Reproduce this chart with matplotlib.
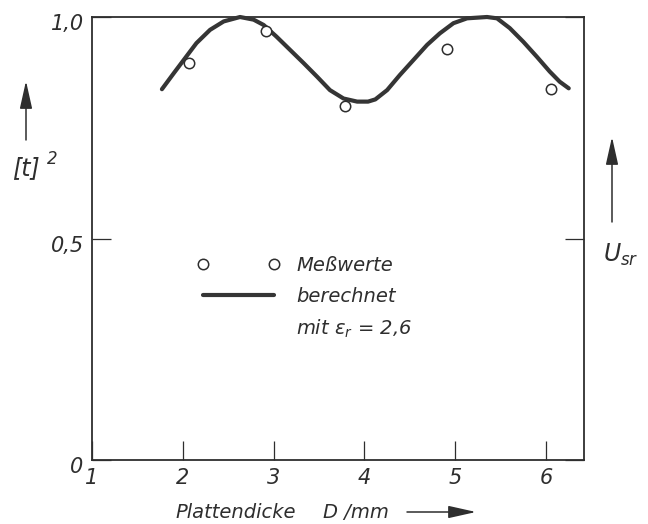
import matplotlib
matplotlib.use("Agg")
import matplotlib.pyplot as plt
from matplotlib.lines import Line2D
from matplotlib.patches import FancyArrowPatch, ArrowStyle
from matplotlib.transforms import ScaledTranslation

# ---- data ----
calc_D = [1.77, 1.90, 2.01, 2.15, 2.30, 2.45, 2.63, 2.78, 2.89, 3.03, 3.18, 3.33,
          3.48, 3.62, 3.77, 3.92, 4.04, 4.12, 4.25, 4.39, 4.54, 4.69, 4.83, 4.98,
          5.13, 5.35, 5.46, 5.60, 5.75, 5.90, 6.04, 6.15, 6.25]
calc_t2 = [0.837, 0.873, 0.903, 0.941, 0.971, 0.990, 1.000, 0.994, 0.982, 0.956,
           0.926, 0.896, 0.865, 0.835, 0.816, 0.809, 0.809, 0.814, 0.835, 0.869,
           0.903, 0.937, 0.963, 0.986, 0.997, 1.000, 0.997, 0.975, 0.944, 0.910,
           0.877, 0.854, 0.839]
meas_D = [2.07, 2.92, 3.79, 4.91, 6.06]
meas_t2 = [0.897, 0.969, 0.798, 0.927, 0.837]
x_ticks = [1, 2, 3, 4, 5, 6]
x_tick_labels = ["1", "2", "3", "4", "5", "6"]
y_ticks = [0, 0.5, 1.0]
y_tick_labels = ["0", "0,5", "1,0"]

W, H = 648, 524
plt.rcParams["mathtext.fontset"] = "dejavusans"
plt.rcParams["font.family"] = ["DejaVu Sans"]
INK = "#2e2e2e"
LINE = "#353535"
FS = 14

fig = plt.figure(figsize=(W / 100, H / 100), dpi=100)
fig.patch.set_facecolor("white")


def px(x, y):
    return (x / W, 1 - y / H)


ax = fig.add_axes([92 / W, 1 - 460 / H, (584 - 92) / W, (460 - 17) / H])
ax.set_xlim(1, 6.418)
ax.set_ylim(0, 1.0)

curve, = ax.plot(calc_D, calc_t2, color=LINE, lw=3.0, solid_capstyle="round",
                 solid_joinstyle="round", clip_on=False, zorder=3)
meas, = ax.plot(meas_D, meas_t2, linestyle="none", marker="o", markersize=7.5,
                markerfacecolor="white", markeredgecolor=INK, markeredgewidth=1.1,
                zorder=4)

for s in ax.spines.values():
    s.set_linewidth(1.3)
    s.set_color(INK)

ax.set_xticks(x_ticks)
ax.set_xticklabels(x_tick_labels)
ax.set_yticks(y_ticks)
ax.set_yticklabels(y_tick_labels)
ax.tick_params(axis="both", direction="in", length=13.5, width=0.9, colors=INK,
               labelsize=15, labelcolor=INK)
ax.tick_params(axis="x", pad=6)
ax.tick_params(axis="y", pad=6, right=True)
for lab in ax.get_xticklabels() + ax.get_yticklabels():
    lab.set_style("italic")
for lab in ax.get_yticklabels():
    lab.set_transform(lab.get_transform() + ScaledTranslation(0, -0.05, fig.dpi_scale_trans))

# legend
blank = Line2D([], [], linestyle="none")
leg = ax.legend([meas, curve, blank],
                ["Meßwerte", "berechnet", r"mit $\varepsilon_r$ = 2,6"],
                numpoints=2, frameon=False, fontsize=FS, handlelength=4.28,
                handletextpad=0.85, labelspacing=0.60, borderpad=0, borderaxespad=0,
                loc="upper left", bbox_to_anchor=px(196.7, 256),
                bbox_transform=fig.transFigure)
for t in leg.get_texts():
    t.set_style("italic")
    t.set_color(INK)

# axis labels with arrows
fig.text(*px(175, 512), "Plattendicke", fontsize=FS, style="italic", color=INK,
         ha="left", va="center")
fig.text(*px(323, 512), "D /mm", fontsize=FS, style="italic", color=INK,
         ha="left", va="center")
fig.text(*px(12, 168), "[t]", fontsize=17, style="italic", color=INK,
         ha="left", va="center")
fig.text(*px(47, 159), "2", fontsize=12, style="italic", color=INK,
         ha="left", va="center")
fig.text(*px(603, 255), r"$U_{sr}$", fontsize=17, color=INK, ha="left", va="center")

astyle = ArrowStyle("-|>", head_length=1.7, head_width=0.38)
for a, b in [((407, 512), (476, 512)), ((26, 140), (26, 81)), ((612, 222), (612, 137))]:
    arr = FancyArrowPatch(px(*a), px(*b), transform=fig.transFigure,
                          arrowstyle=astyle, mutation_scale=10, lw=1.1,
                          color=INK, shrinkA=0, shrinkB=0)
    fig.patches.append(arr)

fig.savefig("out.png", dpi=100, facecolor="white")
